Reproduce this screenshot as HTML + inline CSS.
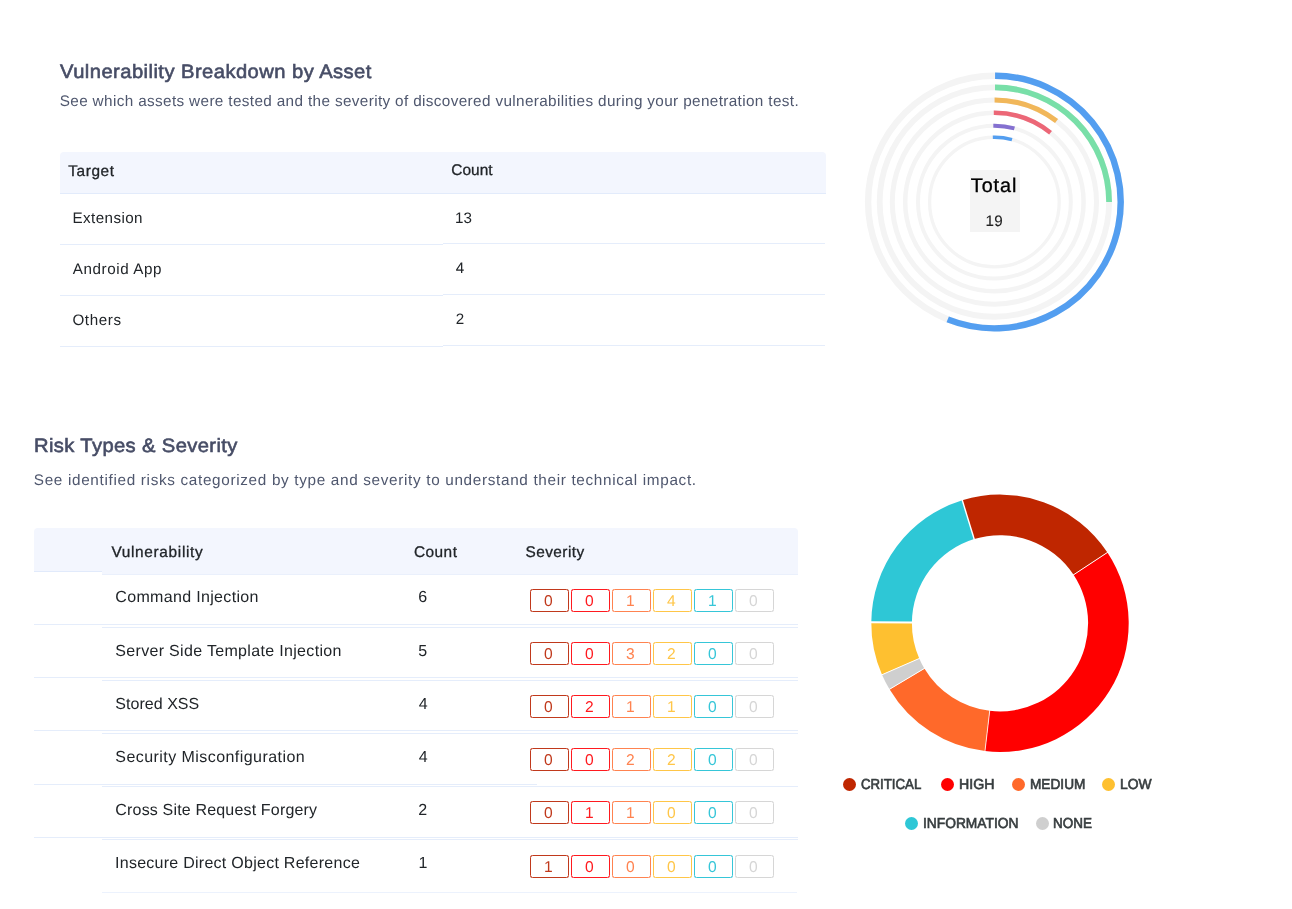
<!DOCTYPE html>
<html lang="en">
<head>
<meta charset="utf-8">
<title>Vulnerability Report</title>
<style>
html,body{margin:0;padding:0;background:#fff;}
body{width:1292px;height:909px;position:relative;overflow:hidden;font-family:"Liberation Sans",sans-serif;color:#212529;}
.t{position:absolute;white-space:nowrap;line-height:1;}
body,.t,.bd span{text-rendering:geometricPrecision;}
.hdr{position:absolute;background:#f3f6fe;}
.ln{position:absolute;height:1px;background:#e5edfb;}
.bd{position:absolute;box-sizing:border-box;width:39px;height:23px;border:1px solid;border-radius:2.5px;box-shadow:0 0 0.6px 0 currentColor,inset 0 0 0.6px 0 currentColor;}
.bd span{position:absolute;left:0;right:2.4px;top:4.0px;text-align:center;font-size:15.6px;line-height:1;}
.c0{color:#c0391c;border-color:#c0391c;}
.c1{color:#ff1a1f;border-color:#ff1a1f;}
.c2{color:#ff8350;border-color:#ff8350;}
.c3{color:#ffc648;border-color:#ffc648;}
.c4{color:#36c6d8;border-color:#36c6d8;}
.c5{color:#d6d6d6;border-color:#d6d6d6;}
.dot{position:absolute;width:13px;height:13px;border-radius:50%;}
svg{position:absolute;left:0;top:0;}
</style>
</head>
<body>

<svg width="1292" height="909" viewBox="0 0 1292 909">
<circle cx="994.4" cy="202.05" r="126.3" fill="none" stroke="#f4f4f4" stroke-width="6.4"/>
<circle cx="994.4" cy="202.05" r="114.7" fill="none" stroke="#f4f4f4" stroke-width="5.8"/>
<circle cx="994.4" cy="202.05" r="102.1" fill="none" stroke="#f4f4f4" stroke-width="5.0"/>
<circle cx="994.4" cy="202.05" r="89.2" fill="none" stroke="#f4f4f4" stroke-width="4.5"/>
<circle cx="994.4" cy="202.05" r="76.4" fill="none" stroke="#f4f4f4" stroke-width="4.0"/>
<circle cx="994.4" cy="202.05" r="64.8" fill="none" stroke="#f4f4f4" stroke-width="3.3"/>
<path d="M995.06 75.75A126.3 126.3 0 1 1 947.70 319.40" fill="none" stroke="#539ef0" stroke-width="6.4"/>
<path d="M995.00 87.35A114.7 114.7 0 0 1 1109.10 202.05" fill="none" stroke="#78dfa8" stroke-width="5.8"/>
<path d="M994.58 99.95A102.1 102.1 0 0 1 1056.55 121.05" fill="none" stroke="#f1b75a" stroke-width="5.0"/>
<path d="M993.78 112.85A89.2 89.2 0 0 1 1050.54 132.73" fill="none" stroke="#ec6777" stroke-width="4.5"/>
<path d="M993.33 125.66A76.4 76.4 0 0 1 1014.43 128.32" fill="none" stroke="#8470d0" stroke-width="4.0"/>
<path d="M992.82 137.27A64.8 64.8 0 0 1 1011.99 139.68" fill="none" stroke="#539ef0" stroke-width="3.3"/>
<rect x="970" y="170" width="50" height="62" fill="#f4f4f4"/>
<path d="M962.26 500.26A128.7 128.7 0 0 1 1107.44 552.45L1073.55 574.80A88.1 88.1 0 0 0 974.17 539.07Z" fill="#bf2600"/>
<path d="M1107.44 552.45A128.7 128.7 0 0 1 984.98 751.12L989.72 710.80A88.1 88.1 0 0 0 1073.55 574.80Z" fill="#ff0000"/>
<path d="M984.98 751.12A128.7 128.7 0 0 1 889.51 689.30L924.37 668.48A88.1 88.1 0 0 0 989.72 710.80Z" fill="#ff692a"/>
<path d="M889.51 689.30A128.7 128.7 0 0 1 882.02 674.72L919.24 658.50A88.1 88.1 0 0 0 924.37 668.48Z" fill="#cfcfcf"/>
<path d="M882.02 674.72A128.7 128.7 0 0 1 871.30 622.18L911.90 622.53A88.1 88.1 0 0 0 919.24 658.50Z" fill="#fec030"/>
<path d="M871.30 622.18A128.7 128.7 0 0 1 962.26 500.26L974.17 539.07A88.1 88.1 0 0 0 911.90 622.53Z" fill="#2ec7d6"/>
<line x1="974.46" y1="540.03" x2="961.97" y2="499.30" stroke="#fff" stroke-width="1.4"/>
<line x1="1072.72" y1="575.35" x2="1108.28" y2="551.90" stroke="#fff" stroke-width="1.0"/>
<line x1="989.84" y1="709.81" x2="984.87" y2="752.11" stroke="#fff" stroke-width="0.8"/>
<line x1="925.22" y1="667.96" x2="888.65" y2="689.81" stroke="#fff" stroke-width="1.0"/>
<line x1="920.15" y1="658.10" x2="881.10" y2="675.12" stroke="#fff" stroke-width="1.0"/>
<line x1="912.90" y1="622.54" x2="870.30" y2="622.17" stroke="#fff" stroke-width="2.0"/>
</svg>
<div class="hdr" style="left:60px;top:152px;width:765.7px;height:41px;border-radius:4px 4px 0 0;"></div>
<div class="ln" style="left:60px;top:193px;width:765.7px;background:#e2ebfb;"></div>
<div class="ln" style="left:60px;top:244px;width:383px;"></div>
<div class="ln" style="left:443px;top:243px;width:382px;"></div>
<div class="ln" style="left:60px;top:295px;width:383px;"></div>
<div class="ln" style="left:443px;top:294px;width:382px;"></div>
<div class="ln" style="left:60px;top:346px;width:383px;"></div>
<div class="ln" style="left:443px;top:345px;width:382px;"></div>
<div class="hdr" style="left:34px;top:528px;width:764.2px;height:43px;border-radius:4px 4px 0 0;"></div>
<div class="hdr" style="left:102px;top:540px;width:696px;height:34px;"></div>
<div class="ln" style="left:34px;top:571px;width:68px;background:#e1eafb;"></div>
<div class="ln" style="left:102px;top:574px;width:696px;background:#eaf0fc;"></div>
<div class="ln" style="left:34px;top:624px;width:764.2px;"></div>
<div class="ln" style="left:34px;top:677px;width:764.2px;"></div>
<div class="ln" style="left:34px;top:730px;width:764.2px;"></div>
<div class="ln" style="left:34px;top:784px;width:503px;"></div>
<div class="ln" style="left:34px;top:837px;width:764.2px;"></div>
<div class="ln" style="left:102px;top:627px;width:696.2px;"></div>
<div class="ln" style="left:102px;top:680px;width:696.2px;"></div>
<div class="ln" style="left:102px;top:733px;width:696.2px;"></div>
<div class="ln" style="left:102px;top:786px;width:696.2px;"></div>
<div class="ln" style="left:102px;top:839px;width:696.2px;"></div>
<div class="ln" style="left:102px;top:892px;width:694.6px;background:#ecf2fd;"></div>
<div class="bd c0" style="left:530.00px;top:589.00px;"><span>0</span></div>
<div class="bd c1" style="left:571.02px;top:589.00px;"><span>0</span></div>
<div class="bd c2" style="left:612.04px;top:589.00px;"><span>1</span></div>
<div class="bd c3" style="left:653.06px;top:589.00px;"><span>4</span></div>
<div class="bd c4" style="left:694.08px;top:589.00px;"><span>1</span></div>
<div class="bd c5" style="left:735.10px;top:589.00px;"><span>0</span></div>
<div class="bd c0" style="left:530.00px;top:642.12px;"><span>0</span></div>
<div class="bd c1" style="left:571.02px;top:642.12px;"><span>0</span></div>
<div class="bd c2" style="left:612.04px;top:642.12px;"><span>3</span></div>
<div class="bd c3" style="left:653.06px;top:642.12px;"><span>2</span></div>
<div class="bd c4" style="left:694.08px;top:642.12px;"><span>0</span></div>
<div class="bd c5" style="left:735.10px;top:642.12px;"><span>0</span></div>
<div class="bd c0" style="left:530.00px;top:695.24px;"><span>0</span></div>
<div class="bd c1" style="left:571.02px;top:695.24px;"><span>2</span></div>
<div class="bd c2" style="left:612.04px;top:695.24px;"><span>1</span></div>
<div class="bd c3" style="left:653.06px;top:695.24px;"><span>1</span></div>
<div class="bd c4" style="left:694.08px;top:695.24px;"><span>0</span></div>
<div class="bd c5" style="left:735.10px;top:695.24px;"><span>0</span></div>
<div class="bd c0" style="left:530.00px;top:748.36px;"><span>0</span></div>
<div class="bd c1" style="left:571.02px;top:748.36px;"><span>0</span></div>
<div class="bd c2" style="left:612.04px;top:748.36px;"><span>2</span></div>
<div class="bd c3" style="left:653.06px;top:748.36px;"><span>2</span></div>
<div class="bd c4" style="left:694.08px;top:748.36px;"><span>0</span></div>
<div class="bd c5" style="left:735.10px;top:748.36px;"><span>0</span></div>
<div class="bd c0" style="left:530.00px;top:801.48px;"><span>0</span></div>
<div class="bd c1" style="left:571.02px;top:801.48px;"><span>1</span></div>
<div class="bd c2" style="left:612.04px;top:801.48px;"><span>1</span></div>
<div class="bd c3" style="left:653.06px;top:801.48px;"><span>0</span></div>
<div class="bd c4" style="left:694.08px;top:801.48px;"><span>0</span></div>
<div class="bd c5" style="left:735.10px;top:801.48px;"><span>0</span></div>
<div class="bd c0" style="left:530.00px;top:854.60px;"><span>1</span></div>
<div class="bd c1" style="left:571.02px;top:854.60px;"><span>0</span></div>
<div class="bd c2" style="left:612.04px;top:854.60px;"><span>0</span></div>
<div class="bd c3" style="left:653.06px;top:854.60px;"><span>0</span></div>
<div class="bd c4" style="left:694.08px;top:854.60px;"><span>0</span></div>
<div class="bd c5" style="left:735.10px;top:854.60px;"><span>0</span></div>
<div class="t" style="left:60.37px;top:62.65px;font-size:19.4px;color:#474d66;letter-spacing:0.433px;transform:scaleX(1.0400);transform-origin:0 0;-webkit-text-stroke:0.6px #474d66;">Vulnerability Breakdown by Asset</div>
<div class="t" style="left:59.71px;top:94.22px;font-size:15.3px;color:#4f576e;letter-spacing:0.360px;">See which assets were tested and the severity of discovered vulnerabilities during your penetration test.</div>
<div class="t" style="left:68.36px;top:163.65px;font-size:15.4px;color:#212529;letter-spacing:0.569px;-webkit-text-stroke:0.3px #212529;">Target</div>
<div class="t" style="left:451.31px;top:163.35px;font-size:15.4px;color:#212529;letter-spacing:0.035px;-webkit-text-stroke:0.3px #212529;">Count</div>
<div class="t" style="left:72.48px;top:211.27px;font-size:15.2px;color:#212529;letter-spacing:0.416px;">Extension</div>
<div class="t" style="left:72.74px;top:262.07px;font-size:15.2px;color:#212529;letter-spacing:0.587px;">Android App</div>
<div class="t" style="left:72.48px;top:312.97px;font-size:15.2px;color:#212529;letter-spacing:0.592px;">Others</div>
<div class="t" style="left:455.02px;top:210.97px;font-size:15.2px;color:#212529;letter-spacing:0.092px;">13</div>
<div class="t" style="left:455.76px;top:261.47px;font-size:15.2px;color:#212529;">4</div>
<div class="t" style="left:455.64px;top:312.17px;font-size:15.2px;color:#212529;">2</div>
<div class="t" style="left:970.85px;top:177.15px;font-size:19.8px;color:#000;letter-spacing:0.925px;-webkit-text-stroke:0.35px #000;">Total</div>
<div class="t" style="left:985.54px;top:213.84px;font-size:15.2px;color:#222;letter-spacing:0.275px;-webkit-text-stroke:0.1px #222;">19</div>
<div class="t" style="left:33.92px;top:436.65px;font-size:19.4px;color:#474d66;letter-spacing:0.365px;transform:scaleX(1.0400);transform-origin:0 0;-webkit-text-stroke:0.6px #474d66;">Risk Types &amp; Severity</div>
<div class="t" style="left:33.81px;top:473.02px;font-size:15.3px;color:#4f576e;letter-spacing:0.670px;">See identified risks categorized by type and severity to understand their technical impact.</div>
<div class="t" style="left:111.39px;top:544.65px;font-size:15.4px;color:#212529;letter-spacing:0.674px;-webkit-text-stroke:0.3px #212529;">Vulnerability</div>
<div class="t" style="left:414.01px;top:544.65px;font-size:15.4px;color:#212529;letter-spacing:0.460px;-webkit-text-stroke:0.3px #212529;">Count</div>
<div class="t" style="left:525.45px;top:544.65px;font-size:15.4px;color:#212529;letter-spacing:0.457px;-webkit-text-stroke:0.3px #212529;">Severity</div>
<div class="t" style="left:115.36px;top:590.4px;font-size:16.0px;color:#212529;letter-spacing:0.325px;">Command Injection</div>
<div class="t" style="left:115.28px;top:643.6px;font-size:16.0px;color:#212529;letter-spacing:0.325px;">Server Side Template Injection</div>
<div class="t" style="left:115.28px;top:696.6px;font-size:16.0px;color:#212529;letter-spacing:0.041px;">Stored XSS</div>
<div class="t" style="left:115.28px;top:749.9px;font-size:16.0px;color:#212529;letter-spacing:0.443px;">Security Misconfiguration</div>
<div class="t" style="left:115.36px;top:803.0px;font-size:16.0px;color:#212529;letter-spacing:0.170px;">Cross Site Request Forgery</div>
<div class="t" style="left:115.00px;top:855.9px;font-size:16.0px;color:#212529;letter-spacing:0.266px;">Insecure Direct Object Reference</div>
<div class="t" style="left:418.25px;top:590.4px;font-size:16.0px;color:#212529;">6</div>
<div class="t" style="left:418.24px;top:643.6px;font-size:16.0px;color:#212529;">5</div>
<div class="t" style="left:418.63px;top:696.6px;font-size:16.0px;color:#212529;">4</div>
<div class="t" style="left:418.63px;top:749.9px;font-size:16.0px;color:#212529;">4</div>
<div class="t" style="left:418.29px;top:803.0px;font-size:16.0px;color:#212529;">2</div>
<div class="t" style="left:418.46px;top:855.9px;font-size:16.0px;color:#212529;">1</div>
<div class="t" style="left:860.67px;top:777.55px;font-size:14.5px;color:#373d3f;transform:scaleX(0.9126);transform-origin:0 0;-webkit-text-stroke:0.65px #373d3f;">CRITICAL</div>
<div class="t" style="left:958.66px;top:777.55px;font-size:14.5px;color:#373d3f;transform:scaleX(0.9758);transform-origin:0 0;-webkit-text-stroke:0.65px #373d3f;">HIGH</div>
<div class="t" style="left:1029.69px;top:777.55px;font-size:14.5px;color:#373d3f;transform:scaleX(0.9416);transform-origin:0 0;-webkit-text-stroke:0.65px #373d3f;">MEDIUM</div>
<div class="t" style="left:1119.98px;top:777.55px;font-size:14.5px;color:#373d3f;transform:scaleX(0.9555);transform-origin:0 0;-webkit-text-stroke:0.65px #373d3f;">LOW</div>
<div class="t" style="left:922.65px;top:816.75px;font-size:14.5px;color:#373d3f;transform:scaleX(0.9501);transform-origin:0 0;-webkit-text-stroke:0.65px #373d3f;">INFORMATION</div>
<div class="t" style="left:1053.40px;top:816.75px;font-size:14.5px;color:#373d3f;transform:scaleX(0.9276);transform-origin:0 0;-webkit-text-stroke:0.65px #373d3f;">NONE</div>
<div class="dot" style="left:842.6px;top:777.7px;background:#bf2600;"></div>
<div class="dot" style="left:941.0px;top:777.7px;background:#ff0000;"></div>
<div class="dot" style="left:1012.1px;top:777.7px;background:#ff692a;"></div>
<div class="dot" style="left:1102.4px;top:777.7px;background:#fec030;"></div>
<div class="dot" style="left:905.0px;top:816.9px;background:#2ec7d6;"></div>
<div class="dot" style="left:1036.0px;top:816.9px;background:#cfcfcf;"></div>
</body>
</html>
